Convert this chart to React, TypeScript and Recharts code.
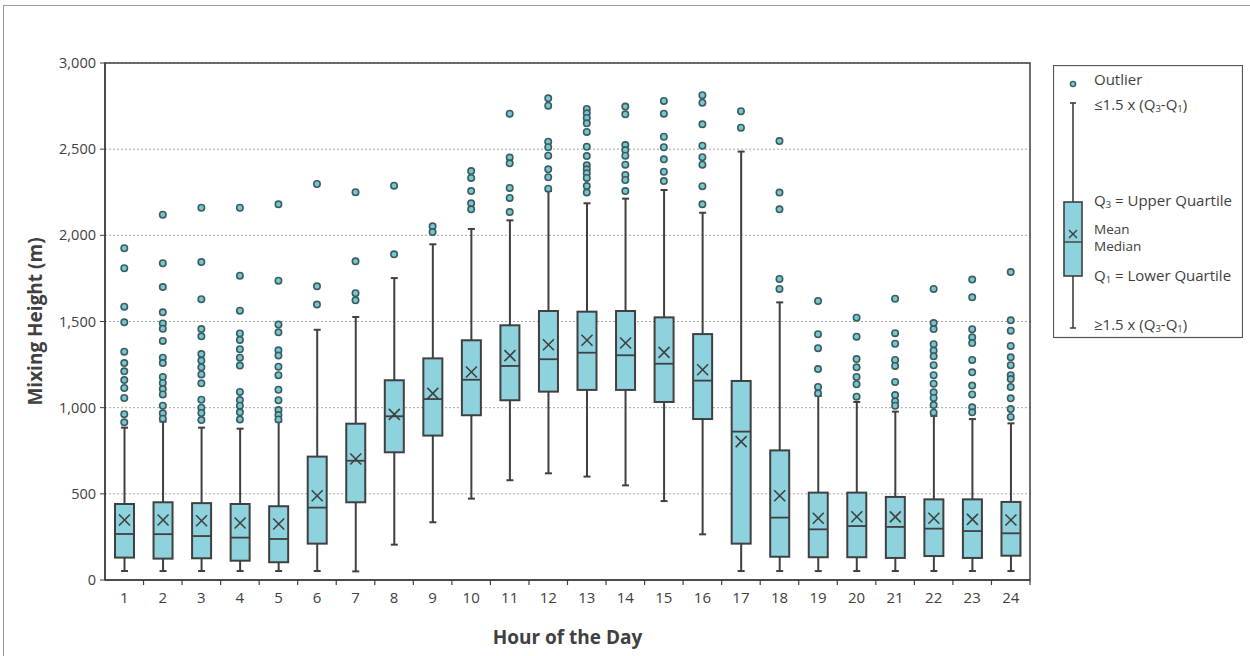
import {
  ComposedChart,
  Bar,
  Scatter,
  XAxis,
  YAxis,
  CartesianGrid,
  ReferenceArea,
  Legend,
} from "recharts";

const hours = [1, 2, 3, 4, 5, 6, 7, 8, 9, 10, 11, 12, 13, 14, 15, 16, 17, 18, 19, 20, 21, 22, 23, 24];

const whiskerLow = [52, 52, 52, 52, 52, 52, 50, 205, 335, 472, 579, 619, 600, 549, 458, 265, 52, 52, 52, 52, 52, 52, 52, 52];
const q1 = [130, 124, 126, 112, 103, 211, 451, 741, 838, 956, 1043, 1093, 1103, 1103, 1033, 934, 211, 135, 132, 132, 128, 139, 128, 141];
const median = [267, 266, 255, 246, 238, 420, 692, 950, 1050, 1162, 1242, 1281, 1319, 1304, 1255, 1157, 861, 362, 294, 313, 308, 298, 284, 271];
const mean = [348, 348, 344, 331, 325, 489, 702, 961, 1083, 1207, 1302, 1365, 1391, 1375, 1321, 1220, 803, 489, 358, 367, 366, 358, 352, 348];
const q3 = [441, 451, 446, 441, 428, 716, 907, 1159, 1286, 1391, 1478, 1561, 1557, 1561, 1524, 1427, 1155, 752, 507, 507, 482, 468, 468, 453];
const whiskerHigh = [884, 919, 884, 878, 919, 1452, 1526, 1752, 1948, 2037, 2087, 2257, 2186, 2213, 2263, 2131, 2486, 1611, 1068, 1033, 977, 952, 934, 909];

// outliers, one list per hour
const outliers = [
  [1925, 1809, 1586, 1495, 1325, 1259, 1211, 1160, 1114, 1056, 962, 915],
  [2120, 1838, 1700, 1553, 1489, 1458, 1387, 1290, 1259, 1178, 1143, 1108, 1077, 1011, 967, 936],
  [2160, 1845, 1629, 1456, 1414, 1311, 1273, 1234, 1193, 1141, 1046, 1000, 969, 928],
  [2160, 1766, 1563, 1431, 1393, 1339, 1290, 1244, 1091, 1044, 1011, 973, 932],
  [2180, 1737, 1482, 1437, 1333, 1302, 1238, 1188, 1104, 1043, 986, 957, 932],
  [2298, 1704, 1598],
  [2250, 1849, 1664, 1623],
  [2288, 1890],
  [2052, 2019],
  [2373, 2333, 2257, 2186, 2151],
  [2706, 2451, 2418, 2275, 2217, 2135],
  [2795, 2752, 2543, 2511, 2462, 2383, 2337, 2271],
  [2733, 2708, 2681, 2650, 2600, 2514, 2460, 2406, 2383, 2360, 2333, 2286, 2248],
  [2747, 2702, 2524, 2495, 2462, 2410, 2350, 2321, 2257],
  [2780, 2706, 2572, 2511, 2441, 2369, 2315],
  [2813, 2770, 2644, 2520, 2453, 2410, 2285, 2180],
  [2720, 2625],
  [2547, 2248, 2151, 1747, 1689],
  [1619, 1426, 1345, 1224, 1120, 1083],
  [1522, 1412, 1282, 1234, 1178, 1136, 1064],
  [1632, 1432, 1371, 1277, 1242, 1149, 1073, 1037, 1011],
  [1689, 1491, 1456, 1368, 1331, 1298, 1246, 1188, 1139, 1089, 1056, 1015, 971],
  [1743, 1640, 1455, 1408, 1375, 1277, 1205, 1128, 1077, 1002, 973],
  [1787, 1507, 1447, 1358, 1292, 1246, 1188, 1166, 1120, 1054, 992, 946],
];

const yTicks = [0, 500, 1000, 1500, 2000, 2500, 3000];

const boxData = hours.map((h, i) => ({
  hour: h,
  range: [whiskerLow[i], whiskerHigh[i]],
  q1: q1[i],
  median: median[i],
  mean: mean[i],
  q3: q3[i],
}));

const outlierData = hours.flatMap((h, i) =>
  outliers[i].map((v) => ({ hour: h, value: v }))
);

const INK = "#404040";
const BOX_FILL = "#8dd2dd";
const FONT = "'Open Sans', sans-serif";

function BoxShape(props: any) {
  const { x, y, width, height, payload } = props;
  const [lo, hi] = payload.range;
  const py = (v: number) => y + (height * (hi - v)) / (hi - lo);
  const cx = x + width / 2;
  const m = py(payload.mean);
  const s = 5.5;
  return (
    <g>
      <line x1={cx} x2={cx} y1={py(hi)} y2={py(lo)} stroke={INK} strokeWidth={2} />
      <line x1={cx - 3.5} x2={cx + 3.5} y1={py(hi)} y2={py(hi)} stroke={INK} strokeWidth={2} />
      <line x1={cx - 3.5} x2={cx + 3.5} y1={py(lo)} y2={py(lo)} stroke={INK} strokeWidth={2} />
      <rect
        x={x}
        y={py(payload.q3)}
        width={width}
        height={py(payload.q1) - py(payload.q3)}
        fill={BOX_FILL}
        stroke={INK}
        strokeWidth={2}
      />
      <line x1={x} x2={x + width} y1={py(payload.median)} y2={py(payload.median)} stroke={INK} strokeWidth={1.8} />
      <line x1={cx - s} x2={cx + s} y1={m - s} y2={m + s} stroke={INK} strokeWidth={1.6} />
      <line x1={cx - s} x2={cx + s} y1={m + s} y2={m - s} stroke={INK} strokeWidth={1.6} />
    </g>
  );
}

function OutlierDot(props: any) {
  const { cx, cy } = props;
  return <circle cx={cx} cy={cy} r={3.2} fill="#74c8d1" stroke="#3e5c5f" strokeWidth={1.6} />;
}

function HourTick(props: any) {
  const { x, y, payload, width, visibleTicksCount } = props;
  const bw = width / visibleTicksCount;
  const axisY = y - 14;
  return (
    <g>
      <line x1={x + bw / 2} x2={x + bw / 2} y1={axisY} y2={axisY + 5} stroke={INK} strokeWidth={1.2} />
      <text x={x} y={y + 9} textAnchor="middle" fill={INK} fontSize={15} fontFamily={FONT}>
        {payload.value}
      </text>
    </g>
  );
}

const SUB = { dy: 4, fontSize: 9.5 };
const UNSUB = { dy: -4 };

function LegendBox() {
  const tx = 41;
  const txt = { fill: INK, fontSize: 15, fontFamily: FONT, dominantBaseline: "central" as const };
  return (
    <svg width={190} height={274}>
      <rect x={0.5} y={0.5} width={189} height={272} fill="#fff" stroke="#555" strokeWidth={1.2} />
      <circle cx={20} cy={19} r={2.6} fill="#74c8d1" stroke="#3e5c5f" strokeWidth={1.4} />
      <line x1={20} x2={20} y1={38} y2={263} stroke={INK} strokeWidth={1.6} />
      <line x1={17} x2={23} y1={38} y2={38} stroke={INK} strokeWidth={1.6} />
      <line x1={17} x2={23} y1={263} y2={263} stroke={INK} strokeWidth={1.6} />
      <rect x={11} y={137} width={18} height={74} fill={BOX_FILL} stroke={INK} strokeWidth={1.6} />
      <line x1={11} x2={29} y1={177} y2={177} stroke={INK} strokeWidth={1.4} />
      <line x1={16} x2={24} y1={165} y2={173} stroke={INK} strokeWidth={1.4} />
      <line x1={16} x2={24} y1={173} y2={165} stroke={INK} strokeWidth={1.4} />
      <text x={tx} y={14} {...txt}>Outlier</text>
      <text x={tx} y={39} {...txt}>
        <tspan>≤1.5 x (Q</tspan>
        <tspan {...SUB}>3</tspan>
        <tspan {...UNSUB}>-Q</tspan>
        <tspan {...SUB}>1</tspan>
        <tspan {...UNSUB}>)</tspan>
      </text>
      <text x={tx} y={135} {...txt}>
        <tspan>Q</tspan>
        <tspan {...SUB}>3</tspan>
        <tspan {...UNSUB}> = Upper Quartile</tspan>
      </text>
      <text x={tx} y={164} {...txt} fontSize={13.5}>Mean</text>
      <text x={tx} y={181} {...txt} fontSize={13.5}>Median</text>
      <text x={tx} y={210} {...txt}>
        <tspan>Q</tspan>
        <tspan {...SUB}>1</tspan>
        <tspan {...UNSUB}> = Lower Quartile</tspan>
      </text>
      <text x={tx} y={259} {...txt}>
        <tspan>≥1.5 x (Q</tspan>
        <tspan {...SUB}>3</tspan>
        <tspan {...UNSUB}>-Q</tspan>
        <tspan {...SUB}>1</tspan>
        <tspan {...UNSUB}>)</tspan>
      </text>
    </svg>
  );
}

export default function App() {
  return (
    <div
      style={{
        position: "absolute",
        left: 0,
        top: 0,
        width: 1250,
        height: 656,
        overflow: "hidden",
        background: "#fff",
      }}
    >
      <div
        style={{
          position: "absolute",
          left: 3,
          top: 5,
          width: 1260,
          height: 700,
          border: "1.5px solid #9a9a9a",
        }}
      />
      <ComposedChart
        width={1250}
        height={656}
        data={boxData}
        margin={{ top: 63, right: 220, bottom: 0, left: 0 }}
        style={{ position: "absolute", left: 0, top: 0 }}
      >
        <CartesianGrid
          vertical={false}
          stroke="#a6a6a6"
          strokeDasharray="2 2"
        />
        <XAxis
          dataKey="hour"
          type="category"
          allowDuplicatedCategory={false}
          height={76}
          tickSize={5}
          tickMargin={9}
          tickLine={false}
          axisLine={{ stroke: INK, strokeWidth: 1.5 }}
          tick={<HourTick />}
          interval={0}
          label={{
            value: "Hour of the Day",
            position: "insideBottom",
            offset: 12,
            style: { fill: INK, fontSize: 19, fontWeight: 700, fontFamily: FONT },
          }}
        />
        <YAxis
          type="number"
          domain={[0, 3000]}
          ticks={yTicks}
          width={105}
          tickSize={5}
          tickMargin={4}
          tickFormatter={(v: number) => v.toLocaleString("en-US")}
          tick={{ fill: INK, fontSize: 14.5, fontFamily: FONT }}
          tickLine={{ stroke: INK }}
          axisLine={{ stroke: INK, strokeWidth: 1.5 }}
          label={{
            content: (p: any) => {
              const vb = p.viewBox;
              const cy = vb.y + vb.height / 2;
              return (
                <text
                  x={35}
                  y={cy}
                  transform={`rotate(-90 35 ${cy})`}
                  textAnchor="middle"
                  dominantBaseline="central"
                  fill={INK}
                  fontSize={19}
                  fontWeight={700}
                  fontFamily={FONT}
                >
                  Mixing Height (m)
                </text>
              );
            },
          }}
        />
        <ReferenceArea
          x1={1}
          x2={24}
          y1={0}
          y2={3000}
          fill="none"
          stroke={INK}
          strokeWidth={1.5}
          fillOpacity={0}
        />
        <Bar dataKey="range" barSize={19} shape={<BoxShape />} isAnimationActive={false} />
        <Scatter data={outlierData} dataKey="value" shape={<OutlierDot />} isAnimationActive={false} />
        <Legend
          layout="horizontal"
          verticalAlign="middle"
          align="center"
          wrapperStyle={{ left: 1053, top: 65, width: 190, height: 274 }}
          content={() => <LegendBox />}
        />
      </ComposedChart>
    </div>
  );
}
